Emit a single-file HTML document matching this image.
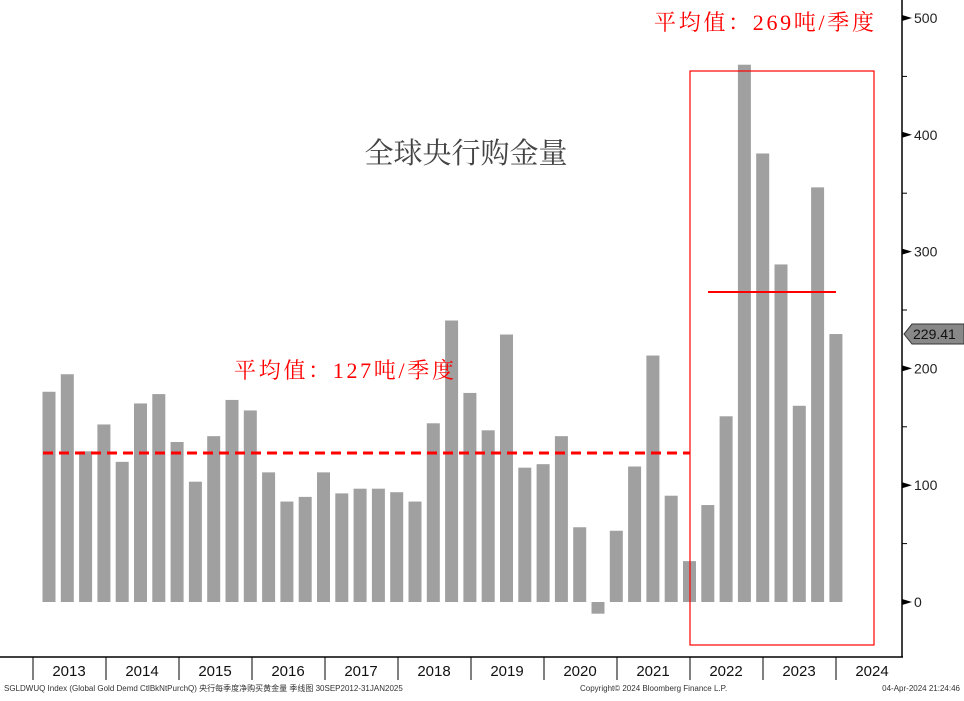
<!DOCTYPE html>
<html><head><meta charset="utf-8"><style>
body{margin:0;background:#fff;width:964px;height:696px;overflow:hidden;font-family:"Liberation Sans","Noto Sans CJK SC",sans-serif}
svg text{font-family:"Liberation Sans","Noto Sans CJK SC",sans-serif}
.serif{font-family:"Liberation Serif","Noto Serif CJK SC",serif !important}
</style></head><body>
<svg id="c" width="964" height="696">
<line x1="0" x2="903" y1="657" y2="657" stroke="#000" stroke-width="1.5"/>
<line x1="902" x2="902" y1="0" y2="657" stroke="#000" stroke-width="1.5"/>
<g id="bars"></g>
<g id="yaxis"></g>
<g id="xaxis"></g>
<line x1="43" x2="690" y1="453" y2="453" stroke="#f00" stroke-width="3" stroke-dasharray="10,6"/>
<rect x="690" y="71" width="184" height="574" fill="none" stroke="#f00" stroke-width="1.2"/>
<line x1="708" x2="836" y1="292" y2="292" stroke="#f00" stroke-width="2"/>
<text class="serif" x="466" y="163" font-size="29" fill="#444" text-anchor="middle">全球央行购金量</text>
<text class="serif" x="234" y="378" font-size="22" fill="#f00" textLength="220">平均值：127吨/季度</text>
<text class="serif" x="654" y="30" font-size="22" fill="#f00" textLength="220">平均值：269吨/季度</text>
<text x="4" y="691" font-size="8" fill="#333">SGLDWUQ Index (Global Gold Demd CtlBkNtPurchQ) 央行每季度净购买黄金量  季线图 30SEP2012-31JAN2025</text>
<text x="580" y="691" font-size="8" fill="#333">Copyright© 2024 Bloomberg Finance L.P.</text>
<text x="960" y="691" font-size="8" fill="#333" text-anchor="end">04-Apr-2024 21:24:46</text>
</svg>
<script>
const values=[180,195,129,152,120,170,178,137,103,142,173,164,111,86,90,111,93,97,97,94,86,153,241,179,147,229,115,118,142,64,-10,61,116,211,91,35,83,159,460,384,289,168,355,229.41];
const yTicks=[0,100,200,300,400,500];
const years=["2013","2014","2015","2016","2017","2018","2019","2020","2021","2022","2023","2024"];
const lastValue="229.41";
const NS="http://www.w3.org/2000/svg";
const y=v=>602-v*1.168;
const xb=i=>49+i*18.3;
function mk(t,a,p){const e=document.createElementNS(NS,t);for(const k in a)e.setAttribute(k,a[k]);p.appendChild(e);return e;}
const bg=document.getElementById('bars');
values.forEach((v,i)=>{
 const r=mk('rect',{x:xb(i)-6.5,y:Math.min(y(v),y(0)),width:13,height:Math.abs(y(v)-y(0)),fill:'#a0a0a0'},bg);
 
 
});
const ya=document.getElementById('yaxis');
yTicks.forEach(t=>{
 const p=mk('path',{d:`M902 ${y(t)-3} L912 ${y(t)} L902 ${y(t)+3}Z`,fill:'#000'},ya);
 
 
 const tx=mk('text',{x:914,y:y(t)+5,'font-size':14,fill:'#222'},ya);
 tx.textContent=t;
 
 
 if(t<500){const m=mk('line',{x1:902,x2:907,y1:y(t+50),y2:y(t+50),stroke:'#000'},ya);
 
 }
});
const lv=parseFloat(lastValue);
const tag=mk('path',{d:`M904 ${y(lv)} L912 ${y(lv)-10} L964 ${y(lv)-10} L964 ${y(lv)+10} L912 ${y(lv)+10}Z`,fill:'#888',stroke:'#333'},ya);


const tt=mk('text',{x:913,y:y(lv)+5,'font-size':14,fill:'#111'},ya);
tt.textContent=lastValue;


const xa=document.getElementById('xaxis');
years.forEach((yr,i)=>{
 const x0=33+i*73;
 const l=mk('line',{x1:x0,x2:x0,y1:657,y2:680,stroke:'#000'},xa);
 
 
 const t=mk('text',{x:x0+36,y:676,'font-size':15,fill:'#111','text-anchor':'middle'},xa);
 t.textContent=yr;
 
 
});
</script>
</body></html>
